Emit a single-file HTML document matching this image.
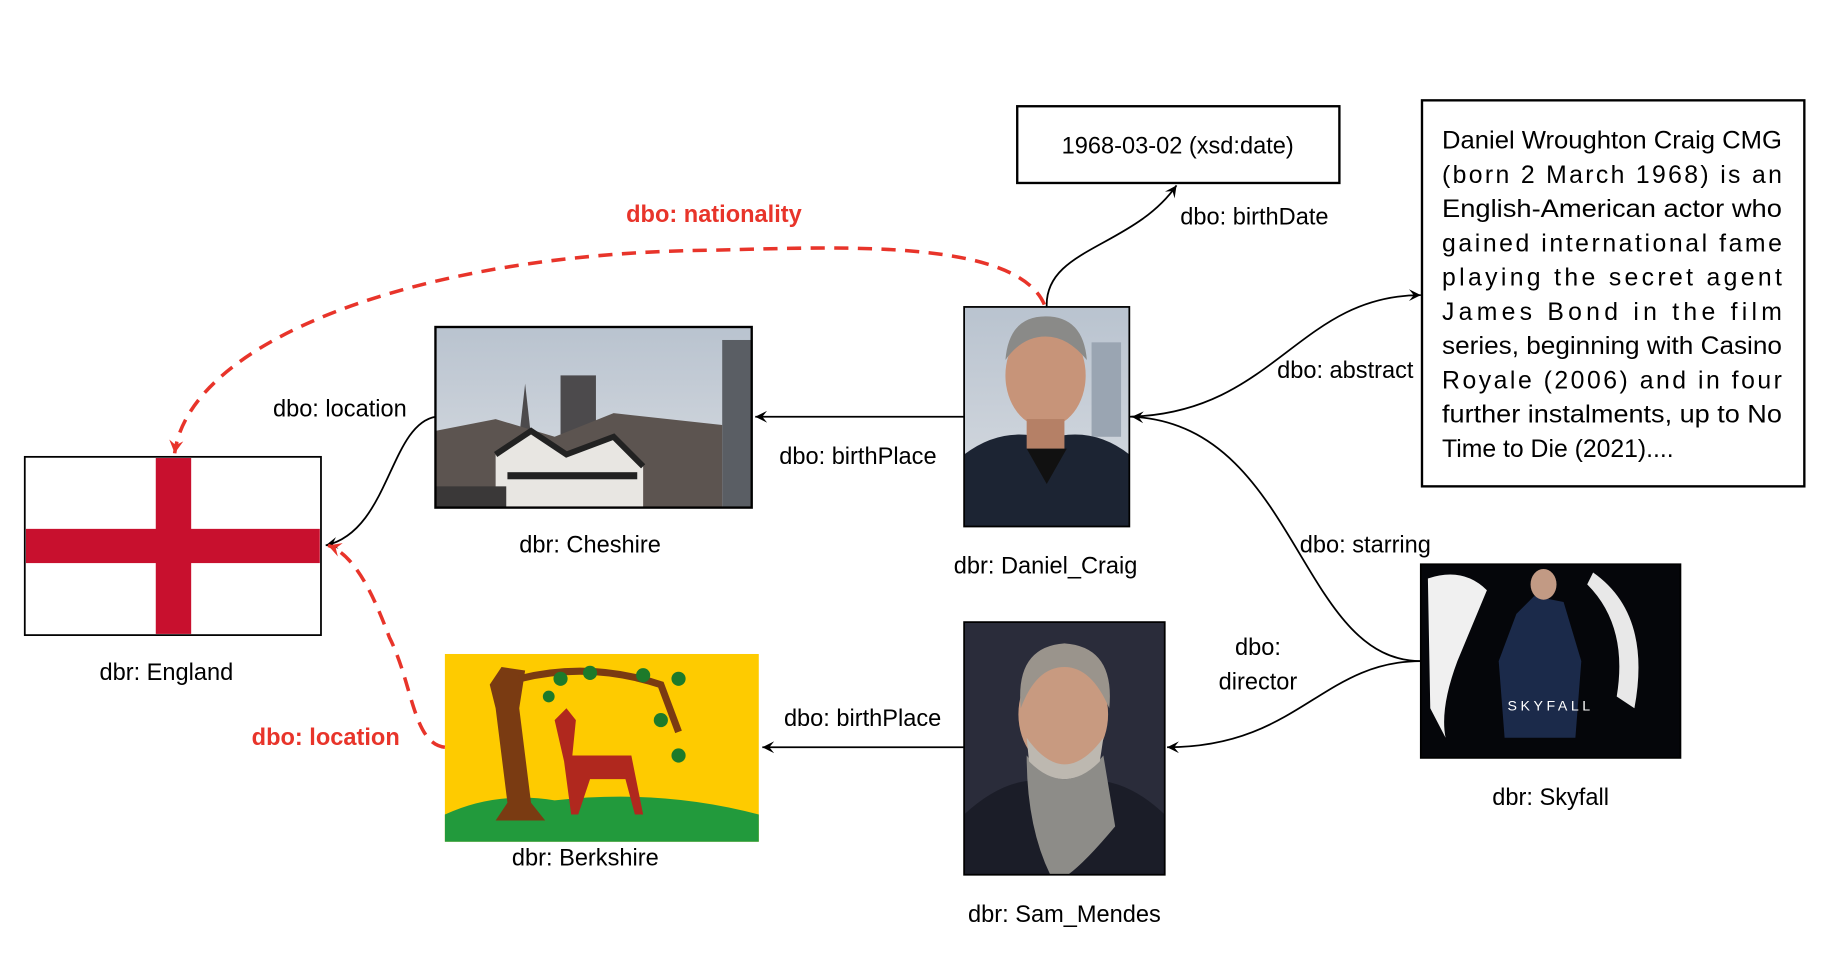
<!DOCTYPE html>
<html><head><meta charset="utf-8"><style>
html,body{margin:0;padding:0;background:#fff;}
svg{display:block;}
text{font-family:"Liberation Sans",sans-serif;font-size:20px;fill:#000;}
.r{fill:#e8342a;font-weight:bold;}
.ab{font-size:21px;}
</style></head><body>
<svg width="1848" height="968" viewBox="0 0 1566 820" preserveAspectRatio="none" xmlns="http://www.w3.org/2000/svg">
<defs>
<marker id="a" markerWidth="12" markerHeight="12" refX="10" refY="6" orient="auto" markerUnits="userSpaceOnUse">
<path d="M0,1 L10,6 L0,11 L4,6 Z" fill="#000"/></marker>
<marker id="ar" markerWidth="14" markerHeight="14" refX="11" refY="7" orient="auto" markerUnits="userSpaceOnUse">
<path d="M0,1 L11,7 L0,13 L4,7 Z" fill="#e8342a"/></marker>
<linearGradient id="sky" x1="0" y1="0" x2="0" y2="1"><stop offset="0" stop-color="#b9c3cf"/><stop offset="1" stop-color="#d9dde2"/></linearGradient>
</defs>

<rect x="862" y="90" width="273" height="65" fill="#fff" stroke="#000" stroke-width="2"/>
<text x="998" y="130" text-anchor="middle">1968-03-02 (xsd:date)</text>

<rect x="1205" y="85" width="324" height="327" fill="#fff" stroke="#000" stroke-width="2"/>
<g class="ab">
<text class="ab" x="1222" y="126" textLength="288" lengthAdjust="spacingAndGlyphs">Daniel Wroughton Craig CMG</text>
<text class="ab" x="1222" y="155" textLength="288" lengthAdjust="spacing">(born 2 March 1968) is an</text>
<text class="ab" x="1222" y="184" textLength="288" lengthAdjust="spacingAndGlyphs">English-American actor who</text>
<text class="ab" x="1222" y="213" textLength="288" lengthAdjust="spacing">gained international fame</text>
<text class="ab" x="1222" y="242" textLength="288" lengthAdjust="spacing">playing the secret agent</text>
<text class="ab" x="1222" y="271" textLength="288" lengthAdjust="spacing">James Bond in the film</text>
<text class="ab" x="1222" y="300" textLength="288" lengthAdjust="spacingAndGlyphs">series, beginning with Casino</text>
<text class="ab" x="1222" y="329" textLength="288" lengthAdjust="spacing">Royale (2006) and in four</text>
<text class="ab" x="1222" y="358" textLength="288" lengthAdjust="spacingAndGlyphs">further instalments, up to No</text>
<text class="ab" x="1222" y="387">Time to Die (2021)....</text>
</g>

<g>
<rect x="817" y="260" width="140" height="186" fill="url(#sky)"/>
<rect x="925" y="290" width="25" height="80" fill="#9aa5b2"/>
<path d="M817,446 L817,385 Q850,360 887,372 Q925,360 957,385 L957,446 Z" fill="#1c2433"/>
<path d="M870,380 L887,410 L904,380 Z" fill="#111"/>
<ellipse cx="886" cy="318" rx="34" ry="44" fill="#c79479"/>
<path d="M852,305 Q855,268 886,268 Q918,268 921,305 Q905,285 886,285 Q866,285 852,305Z" fill="#8a8a88"/>
<rect x="870" y="355" width="32" height="25" fill="#b58066"/>
<rect x="817" y="260" width="140" height="186" fill="none" stroke="#000" stroke-width="1.5"/>
</g>
<text x="886" y="486" text-anchor="middle">dbr: Daniel_Craig</text>

<g>
<rect x="369" y="277" width="268" height="153" fill="url(#sky)"/>
<rect x="475" y="318" width="30" height="50" fill="#4c4a4c"/>
<path d="M440,370 L445,325 L450,370Z" fill="#4c4a4c"/>
<rect x="612" y="288" width="25" height="142" fill="#5a5e64"/>
<path d="M369,430 L369,365 L420,355 L470,370 L520,350 L612,360 L612,430Z" fill="#5c5450"/>
<path d="M420,385 L450,365 L480,385 L520,370 L545,395 L545,430 L420,430Z" fill="#e8e6e2"/>
<path d="M420,385 L450,365 L480,385 L520,370 L545,395" fill="none" stroke="#222" stroke-width="5"/>
<rect x="430" y="400" width="110" height="6" fill="#222"/>
<rect x="369" y="412" width="60" height="18" fill="#3a3838"/>
<rect x="369" y="277" width="268" height="153" fill="none" stroke="#000" stroke-width="2"/>
</g>
<text x="500" y="468" text-anchor="middle">dbr: Cheshire</text>

<rect x="21" y="387" width="251" height="151" fill="#fff" stroke="#000" stroke-width="1.5"/>
<rect x="132" y="388" width="30" height="149" fill="#c8102e"/>
<rect x="22" y="448" width="249" height="29" fill="#c8102e"/>
<text x="141" y="576" text-anchor="middle">dbr: England</text>

<g>
<rect x="377" y="554" width="266" height="159" fill="#fecb00"/>
<path d="M377,713 L377,690 Q420,670 470,678 Q560,668 643,690 L643,713Z" fill="#229a3c"/>
<path d="M415,580 L425,565 L445,568 L440,600 L450,680 L462,695 L420,695 L430,680 L420,600Z" fill="#7a3b12"/>
<path d="M440,575 Q500,560 560,580 L575,620" fill="none" stroke="#7a3b12" stroke-width="6"/>
<path d="M470,610 L480,600 L488,610 L485,640 L535,640 L545,690 L538,690 L530,660 L500,660 L490,690 L484,690 L478,645Z" fill="#b0281e"/>
<g fill="#1d7a2a"><circle cx="475" cy="575" r="6"/><circle cx="500" cy="570" r="6"/><circle cx="545" cy="572" r="6"/><circle cx="575" cy="575" r="6"/><circle cx="560" cy="610" r="6"/><circle cx="575" cy="640" r="6"/><circle cx="465" cy="590" r="5"/></g>
</g>
<text x="496" y="733" text-anchor="middle">dbr: Berkshire</text>

<g>
<rect x="817" y="527" width="170" height="214" fill="#2a2c3a"/>
<path d="M817,741 L817,690 Q860,650 902,665 Q945,650 987,690 L987,741Z" fill="#1b1d28"/>
<path d="M870,640 Q902,680 935,640 L945,700 Q920,730 905,741 L890,741 Q870,700 870,640Z" fill="#8d8c88"/>
<ellipse cx="901" cy="605" rx="38" ry="48" fill="#c89a80"/>
<path d="M865,600 Q860,548 902,545 Q945,548 940,600 Q925,565 902,565 Q878,565 865,600Z" fill="#9a948c"/>
<path d="M870,625 Q902,670 935,625 L932,645 Q902,675 872,645Z" fill="#bdb8b0"/>
<rect x="817" y="527" width="170" height="214" fill="none" stroke="#000" stroke-width="1.5"/>
</g>
<text x="902" y="781" text-anchor="middle">dbr: Sam_Mendes</text>

<g>
<rect x="1204" y="478" width="220" height="164" fill="#05060a"/>
<path d="M1210,490 Q1240,480 1260,500 L1235,560 Q1220,600 1225,625 L1212,600Z" fill="#f0f0f0"/>
<path d="M1350,485 Q1400,520 1385,600 L1370,590 Q1380,530 1345,495Z" fill="#e8e8e8"/>
<path d="M1285,520 L1300,505 L1325,510 L1340,560 L1335,625 L1275,625 L1270,560Z" fill="#1b2a4a"/>
<ellipse cx="1308" cy="495" rx="11" ry="13" fill="#c29a84"/>
<text x="1314" y="602" text-anchor="middle" style="font-size:12px;fill:#fff;letter-spacing:3px">SKYFALL</text>
<rect x="1204" y="478" width="220" height="164" fill="none" stroke="#000" stroke-width="1.5"/>
</g>
<text x="1314" y="682" text-anchor="middle">dbr: Skyfall</text>

<g fill="none" stroke="#000" stroke-width="1.5">
<path d="M817,353 L640,353" marker-end="url(#a)"/>
<path d="M369,353 C330,360 330,450 276,462" marker-end="url(#a)"/>
<path d="M887,260 C885,210 960,210 997,157" marker-end="url(#a)"/>
<path d="M957,353 C1080,350 1100,250 1204,250" marker-end="url(#a)"/>
<path d="M1204,560 C1100,560 1100,360 959,353" marker-end="url(#a)"/>
<path d="M1204,560 C1120,560 1100,633 989,633" marker-end="url(#a)"/>
<path d="M817,633 L646,633" marker-end="url(#a)"/>
</g>
<g fill="none" stroke="#e8342a" stroke-width="3" stroke-dasharray="12,8">
<path d="M885,258 C860,200 700,210 600,212 C350,215 160,290 148,384" marker-end="url(#ar)"/>
<path d="M377,633 C350,630 350,580 330,540 C315,500 300,470 278,462" marker-end="url(#ar)"/>
</g>

<text x="727" y="393" text-anchor="middle">dbo: birthPlace</text>
<text x="288" y="353" text-anchor="middle">dbo: location</text>
<text x="1063" y="190" text-anchor="middle">dbo: birthDate</text>
<text x="1140" y="320" text-anchor="middle">dbo: abstract</text>
<text x="1157" y="468" text-anchor="middle">dbo: starring</text>
<text x="1066" y="555" text-anchor="middle">dbo:</text>
<text x="1066" y="584" text-anchor="middle">director</text>
<text x="731" y="615" text-anchor="middle">dbo: birthPlace</text>
<text class="r" x="605" y="188" text-anchor="middle">dbo: nationality</text>
<text class="r" x="276" y="631" text-anchor="middle">dbo: location</text>
</svg>
</body></html>
